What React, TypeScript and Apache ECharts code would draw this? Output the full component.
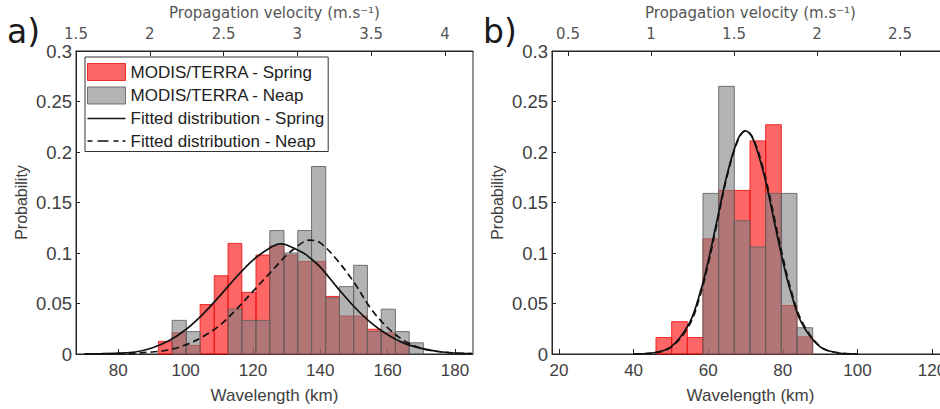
import React, { useEffect, useRef } from "react";
import * as echarts from "echarts";

// ---------- data ----------
// Panel a: bin edges (km) and probabilities
const edgesA = [91.9, 96.0, 100.2, 104.3, 108.5, 112.6, 116.7, 120.9, 125.0, 129.2, 133.3, 137.4, 141.6, 145.7, 149.9, 154.0, 158.1, 162.3, 166.4, 170.6];
const springA = [0.0125, 0.021, 0.0085, 0.049, 0.0775, 0.1095, 0.061, 0.098, 0.107, 0.098, 0.0915, 0.0915, 0.057, 0.0376, 0.0376, 0.0245, 0.021, 0.012, 0];
const neapA = [0, 0.0333, 0.0222, 0, 0, 0.0444, 0.0333, 0.0333, 0.1222, 0.1, 0.1222, 0.1856, 0.0556, 0.0667, 0.0878, 0.0222, 0.0444, 0.0222, 0.0111];

// Panel b
const edgesB = [46.0, 50.2, 54.4, 58.6, 62.8, 67.0, 71.2, 75.4, 79.6, 83.8, 88.0];
const springB = [0.0163, 0.032, 0.0163, 0.114, 0.162, 0.162, 0.211, 0.227, 0.048, 0.017];
const neapB = [0, 0, 0, 0.159, 0.265, 0.132, 0.106, 0.159, 0.159, 0.026];

// Fitted distributions
const fitKmA = [70, 75, 80, 85, 90, 95, 100, 105, 110, 115, 120, 125, 128, 130, 135, 137, 140, 145, 150, 155, 160, 165, 170, 175, 180, 185];
const fitSpringA = [0.0001, 0.0003, 0.0008, 0.002, 0.006, 0.013, 0.024, 0.039, 0.057, 0.076, 0.093, 0.105, 0.109, 0.108, 0.100, 0.095, 0.086, 0.066, 0.047, 0.031, 0.019, 0.0105, 0.0055, 0.0025, 0.001, 0.0004];
const fitNeapA = [0.0, 0.0001, 0.0003, 0.0008, 0.002, 0.004, 0.009, 0.017, 0.028, 0.044, 0.062, 0.080, 0.091, 0.098, 0.111, 0.1127, 0.110, 0.093, 0.071, 0.045, 0.026, 0.013, 0.0055, 0.0025, 0.001, 0.0004];

const fitKmB = [40, 45, 50, 55, 58, 60, 62, 65, 68, 70, 72, 75, 78, 80, 82, 85, 90, 95, 100];
const fitSpringB = [0.0001, 0.001, 0.007, 0.031, 0.063, 0.092, 0.126, 0.177, 0.213, 0.221, 0.213, 0.177, 0.126, 0.092, 0.063, 0.031, 0.007, 0.001, 0.0001];
const fitNeapB = [0.0001, 0.0009, 0.0065, 0.029, 0.060, 0.089, 0.123, 0.175, 0.212, 0.221, 0.214, 0.180, 0.130, 0.096, 0.066, 0.033, 0.0075, 0.0011, 0.0001];

// Tick labels
const ticksKmA = [80, 100, 120, 140, 160, 180];
const ticksVelA = [1.5, 2, 2.5, 3, 3.5, 4];
const ticksKmB = [20, 40, 60, 80, 100, 120];
const ticksVelB = [0.5, 1, 1.5, 2, 2.5];

const NAME_SPRING = "MODIS/TERRA - Spring";
const NAME_NEAP = "MODIS/TERRA - Neap";
const NAME_FIT_S = "Fitted distribution - Spring";
const NAME_FIT_N = "Fitted distribution - Neap";

const RED_FILL = "rgba(255,0,0,0.6)";
const RED_EDGE = "rgba(235,20,20,0.85)";
const GRAY_FILL = "rgba(128,128,128,0.6)";
const GRAY_EDGE = "rgba(95,95,95,0.85)";

const AX = "#262626";
const LBL = "#404040";
const ARIAL = "Liberation Sans, Arial, sans-serif";
const VERD = "DejaVu Sans, Verdana, sans-serif";

const ICON_SOLID = "path://M0,0H38V1.7H0Z";
const ICON_DASH = "path://M0,0H5V1.7H0Z M10,0H21V1.7H10Z M26,0H31V1.7H26Z M35,0H38V1.7H35Z";

function hist(name: string, edges: number[], vals: number[], xi: number, yi: number, fill: string, stroke: string) {
  const data = vals.map((v, i) => [edges[i], edges[i + 1], v]);
  return {
    type: "custom",
    name,
    xAxisIndex: xi,
    yAxisIndex: yi,
    data,
    encode: { x: [0, 1], y: 2 },
    itemStyle: { color: fill, borderColor: stroke },
    z: 2,
    renderItem: (_p: any, api: any) => {
      const x0 = api.value(0), x1 = api.value(1), y = api.value(2);
      if (!(y > 0)) return null;
      const a = api.coord([x0, y]);
      const b = api.coord([x1, 0]);
      return {
        type: "rect",
        shape: { x: a[0], y: a[1], width: b[0] - a[0], height: b[1] - a[1] },
        style: { fill, stroke, lineWidth: 1 },
      };
    },
  };
}

function fit(name: string, km: number[], vals: number[], xi: number, yi: number, dashed: boolean) {
  return {
    type: "line",
    name,
    xAxisIndex: xi,
    yAxisIndex: yi,
    data: km.map((k, i) => [k, vals[i]]),
    smooth: 0.35,
    symbol: "none",
    showSymbol: false,
    z: 5,
    lineStyle: { color: "#111", width: 1.7, type: dashed ? [7, 4] : "solid" },
    itemStyle: { color: "#111" },
  };
}

function bottomAxis(grid: number, min: number, max: number, ticks: number[]) {
  return {
    type: "value",
    gridIndex: grid,
    position: "bottom",
    min,
    max,
    name: "Wavelength (km)",
    nameLocation: "middle",
    nameGap: 33,
    nameTextStyle: { fontFamily: ARIAL, fontSize: 17, color: LBL },
    axisLine: { show: true, lineStyle: { color: AX, width: 1 } },
    axisTick: { show: true, inside: true, length: 5, customValues: ticks, lineStyle: { color: AX } },
    axisLabel: { customValues: ticks, margin: 8, fontFamily: ARIAL, fontSize: 17, color: LBL },
    splitLine: { show: false },
  };
}

function topAxis(grid: number, min: number, max: number, ticks: number[]) {
  return {
    type: "value",
    gridIndex: grid,
    position: "top",
    min,
    max,
    name: "Propagation velocity (m.s\u207B\u00B9)",
    nameLocation: "middle",
    nameGap: 31,
    nameTextStyle: { fontFamily: VERD, fontSize: 15, color: "#555" },
    axisLine: { show: true, lineStyle: { color: AX, width: 1 } },
    axisTick: { show: true, inside: true, length: 5, customValues: ticks, lineStyle: { color: AX } },
    axisLabel: { customValues: ticks, margin: 10, fontFamily: VERD, fontSize: 15, color: "#555" },
    splitLine: { show: false },
  };
}

function leftAxis(grid: number) {
  return {
    type: "value",
    gridIndex: grid,
    min: 0,
    max: 0.3,
    interval: 0.05,
    name: "Probability",
    nameLocation: "middle",
    nameGap: 47,
    nameTextStyle: { fontFamily: ARIAL, fontSize: 16, color: LBL },
    axisLine: { show: true, lineStyle: { color: AX, width: 1 } },
    axisTick: { show: true, inside: true, length: 4, lineStyle: { color: AX } },
    axisLabel: { margin: 4, fontFamily: ARIAL, fontSize: 18.5, color: LBL },
    splitLine: { show: false },
  };
}

export default function App() {
  const ref = useRef<HTMLDivElement>(null);
  useEffect(() => {
    if (!ref.current) return;
    const chart = echarts.init(ref.current, undefined, { renderer: "svg" });
    const option: any = {
      animation: false,
      backgroundColor: "#fff",
      grid: [
        { left: 76, top: 51, width: 397, height: 306, show: true, borderColor: AX, borderWidth: 1, backgroundColor: "transparent" },
        { left: 552, top: 51, width: 397, height: 306, show: true, borderColor: AX, borderWidth: 1, backgroundColor: "transparent" },
      ],
      xAxis: [
        bottomAxis(0, 67.44, 185.35, ticksKmA),
        topAxis(0, 1.5, 4.19, ticksVelA),
        bottomAxis(1, 18.12, 124.55, ticksKmB),
        topAxis(1, 0.4036, 2.795, ticksVelB),
      ],
      yAxis: [leftAxis(0), leftAxis(1)],
      legend: {
        orient: "vertical",
        left: 85,
        top: 57,
        padding: [6, 4, 2, 2],
        itemWidth: 38,
        itemHeight: 17,
        itemGap: 5.5,
        borderColor: "#333",
        borderWidth: 1,
        backgroundColor: "#fff",
        selectedMode: false,
        textStyle: { fontFamily: ARIAL, fontSize: 17, color: "#222", lineHeight: 17 },
        data: [
          { name: NAME_SPRING, icon: "rect", itemStyle: { color: RED_FILL, borderColor: RED_EDGE, borderWidth: 1 } },
          { name: NAME_NEAP, icon: "rect", itemStyle: { color: GRAY_FILL, borderColor: GRAY_EDGE, borderWidth: 1 } },
          { name: NAME_FIT_S, icon: ICON_SOLID, itemStyle: { color: "#111", borderWidth: 0 } },
          { name: NAME_FIT_N, icon: ICON_DASH, itemStyle: { color: "#111", borderWidth: 0 } },
        ],
      },
      graphic: [
        { type: "text", left: 7, top: 15, style: { text: "a)", fontFamily: VERD, fontSize: 33, fill: "#1a1a1a" } },
        { type: "text", left: 483, top: 15, style: { text: "b)", fontFamily: VERD, fontSize: 33, fill: "#1a1a1a" } },
      ],
      series: [
        hist(NAME_SPRING, edgesA, springA, 0, 0, RED_FILL, RED_EDGE),
        hist(NAME_NEAP, edgesA, neapA, 0, 0, GRAY_FILL, GRAY_EDGE),
        fit(NAME_FIT_S, fitKmA, fitSpringA, 0, 0, false),
        fit(NAME_FIT_N, fitKmA, fitNeapA, 0, 0, true),
        hist(NAME_SPRING, edgesB, springB, 2, 1, RED_FILL, RED_EDGE),
        hist(NAME_NEAP, edgesB, neapB, 2, 1, GRAY_FILL, GRAY_EDGE),
        fit(NAME_FIT_S, fitKmB, fitSpringB, 2, 1, false),
        fit(NAME_FIT_N, fitKmB, fitNeapB, 2, 1, true),
      ],
    };
    chart.setOption(option);
    return () => chart.dispose();
  }, []);
  return (
    <div style={{ position: "fixed", left: 0, top: 0, width: 940, height: 409, overflow: "hidden", background: "#fff" }}>
      <div ref={ref} style={{ width: 960, height: 409 }} />
    </div>
  );
}
